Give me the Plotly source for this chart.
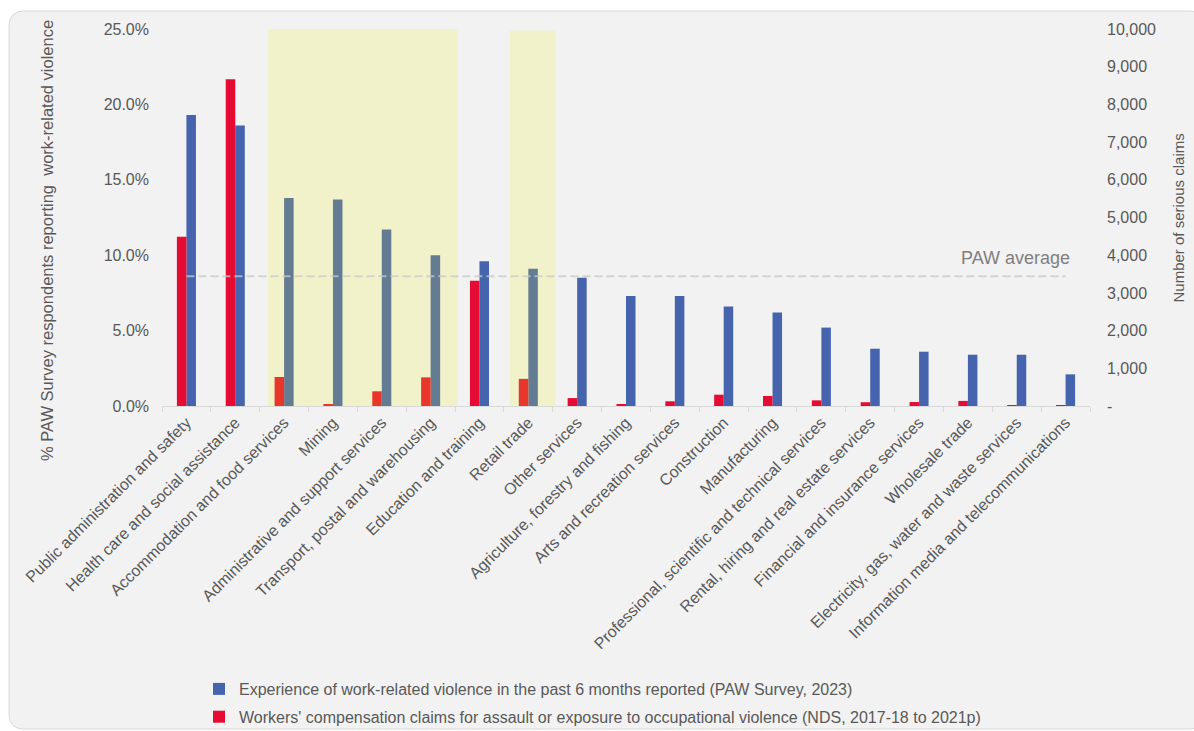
import plotly.graph_objects as go

categories = [
    "Public administration and safety",
    "Health care and social assistance",
    "Accommodation and food services",
    "Mining",
    "Administrative and support services",
    "Transport, postal and warehousing",
    "Education and training",
    "Retail trade",
    "Other services",
    "Agriculture, forestry and fishing",
    "Arts and recreation services",
    "Construction",
    "Manufacturing",
    "Professional, scientific and technical services",
    "Rental, hiring and real estate services",
    "Financial and insurance services",
    "Wholesale trade",
    "Electricity, gas, water and waste services",
    "Information media and telecommunications",
]

paw_pct = [19.3, 18.6, 13.8, 13.7, 11.7, 10.0, 9.6, 9.1, 8.5, 7.3, 7.3, 6.6, 6.2, 5.2, 3.8, 3.6, 3.4, 3.4, 2.1]
claims = [4490, 8670, 770, 45, 390, 760, 3320, 720, 210, 50, 125, 300, 265, 150, 100, 105, 135, 25, 15]
highlighted = [
    "Accommodation and food services",
    "Mining",
    "Administrative and support services",
    "Transport, postal and warehousing",
    "Retail trade",
]
paw_average = 8.6

left_ticks = [0, 5, 10, 15, 20, 25]
left_ticktext = [f"{v:.1f}%" for v in left_ticks]
right_ticks = [0, 1000, 2000, 3000, 4000, 5000, 6000, 7000, 8000, 9000, 10000]
right_ticktext = ["-"] + [f"{v:,}" for v in right_ticks[1:]]

name_paw = "Experience of work-related violence in the past 6 months reported (PAW Survey, 2023)"
name_claims = "Workers' compensation claims for assault or exposure to occupational violence (NDS, 2017-18 to 2021p)"

BLUE, BLUE_HI = "#4664AD", "#647C93"
RED, RED_HI = "#E60B32", "#E8372A"
TXT = "#595959"
FONT = "Liberation Sans, Arial, sans-serif"

blue_colors = [BLUE_HI if c in highlighted else BLUE for c in categories]
red_colors = [RED_HI if c in highlighted else RED for c in categories]

# pixel geometry of plot area
L, R, T, B = 162, 104, 29, 325
W_PX, H_PX = 1194, 731
PW = W_PX - L - R
PH = H_PX - T - B


def px(x):
    return (x - L) / PW


def py(y):
    return (H_PX - B - y) / PH


BW = 0.195

fig = go.Figure()
fig.add_trace(go.Bar(
    x=categories, y=paw_pct, name=name_paw, yaxis="y",
    marker=dict(color=blue_colors, line=dict(width=0)),
    width=BW, offset=0, legendgroup="a", legendrank=1,
))
fig.add_trace(go.Bar(
    x=categories, y=claims, name=name_claims, yaxis="y2",
    marker=dict(color=red_colors, line=dict(width=0)),
    width=BW, offset=-BW, legendgroup="b", legendrank=2,
))

# background rounded panel
x0, x1 = px(9), px(1205)
y0, y1 = py(729), py(11)
rx, ry = 15 / PW, 15 / PH
bg_path = (
    f"M{x0+rx},{y1} L{x1-rx},{y1} Q{x1},{y1} {x1},{y1-ry} "
    f"L{x1},{y0+ry} Q{x1},{y0} {x1-rx},{y0} "
    f"L{x0+rx},{y0} Q{x0},{y0} {x0},{y0+ry} "
    f"L{x0},{y1-ry} Q{x0},{y1} {x0+rx},{y1} Z"
)
shapes = [
    dict(type="path", path=bg_path, xref="paper", yref="paper", layer="below",
         fillcolor="#F2F2F2", line=dict(color="#D9D9D9", width=1)),
    dict(type="rect", xref="x", yref="y", x0=1.67, x1=5.56, y0=0, y1=25,
         fillcolor="#F2F2CA", line=dict(width=0), layer="below"),
    dict(type="rect", xref="x", yref="y", x0=6.62, x1=7.56, y0=0, y1=24.9,
         fillcolor="#F2F2CA", line=dict(width=0), layer="below"),
    dict(type="line", xref="x", yref="y", x0=0, x1=len(categories) - 1,
         y0=paw_average, y1=paw_average, layer="above",
         line=dict(color="rgba(200,200,200,0.75)", width=2, dash="8px,4px")),
]

annotations = [
    dict(text="PAW average", xref="paper", yref="paper", x=px(1072), y=py(257.5),
         xanchor="right", yanchor="middle", showarrow=False,
         font=dict(size=18, color="#7F7F7F", family=FONT)),
    dict(text="% PAW Survey respondents reporting  work-related violence",
         xref="paper", yref="paper", x=px(47), y=py(241), textangle=-90,
         xanchor="center", yanchor="middle", showarrow=False,
         font=dict(size=16.5, color=TXT, family=FONT)),
    dict(text="Number of serious claims", xref="paper", yref="paper",
         x=px(1177.5), y=py(218), textangle=-90,
         xanchor="center", yanchor="middle", showarrow=False,
         font=dict(size=15, color=TXT, family=FONT)),
]

fig.update_layout(
    width=W_PX, height=H_PX, autosize=False,
    margin=dict(l=L, r=R, t=T, b=B, autoexpand=False),
    paper_bgcolor="white", plot_bgcolor="rgba(0,0,0,0)",
    font=dict(family=FONT, size=16, color=TXT),
    barmode="overlay",
    shapes=shapes, annotations=annotations,
    xaxis=dict(
        type="category", tickangle=-45, tickson="boundaries",
        ticks="outside", ticklen=5, tickcolor="#D9D9D9", tickwidth=1,
        showline=True, linecolor="#D9D9D9", linewidth=1,
        showgrid=False, zeroline=False,
        tickfont=dict(size=16, color=TXT, family=FONT),
        range=[-0.5, len(categories) - 0.5],
    ),
    yaxis=dict(
        range=[0, 25], tickvals=left_ticks, ticktext=left_ticktext,
        showgrid=False, zeroline=False, showline=False, ticks="",
        ticklabelstandoff=12,
        tickfont=dict(size=16, color=TXT, family=FONT),
    ),
    yaxis2=dict(
        range=[0, 10000], tickvals=right_ticks, ticktext=right_ticktext,
        overlaying="y", side="right",
        showgrid=False, zeroline=False, showline=False, ticks="",
        ticklabelstandoff=16,
        tickfont=dict(size=16, color=TXT, family=FONT),
    ),
    legend=dict(
        xref="container", yref="container",
        x=199 / W_PX, y=1 - 672 / H_PX, xanchor="left", yanchor="top",
        orientation="v", traceorder="grouped", tracegroupgap=4,
        bgcolor="rgba(0,0,0,0)", font=dict(size=16, color=TXT, family=FONT),
    ),
    showlegend=True,
)

fig.write_html("out.html")
